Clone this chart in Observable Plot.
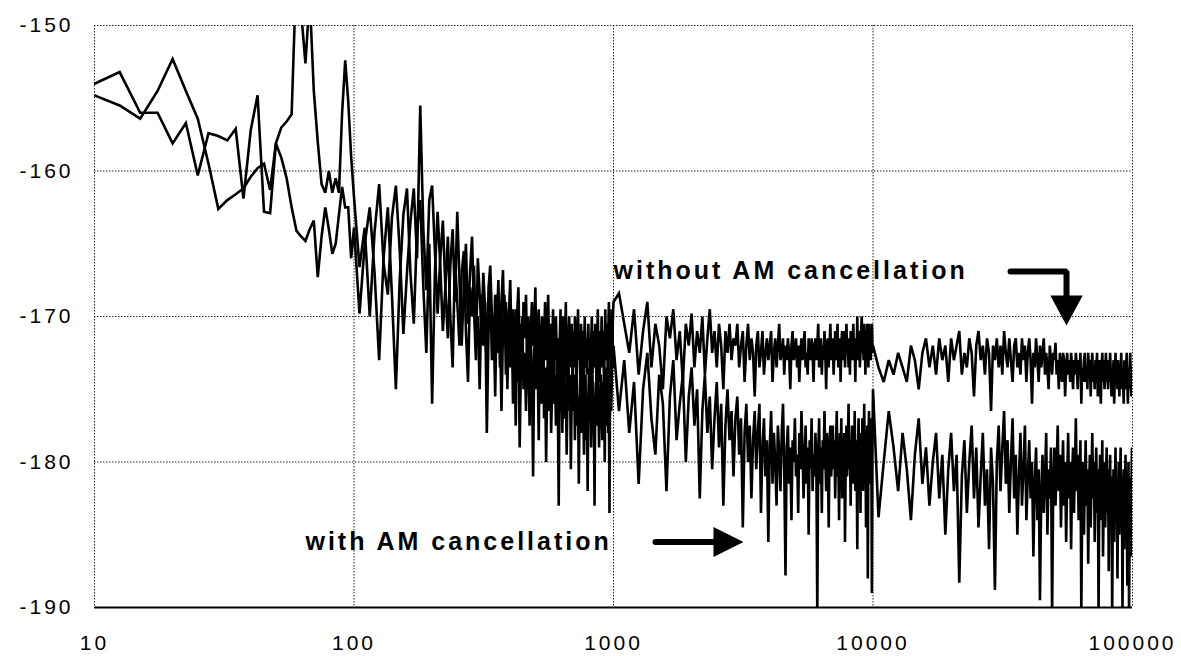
<!DOCTYPE html>
<html>
<head>
<meta charset="utf-8">
<script src="https://cdn.jsdelivr.net/npm/d3@7"></script>
<script src="https://cdn.jsdelivr.net/npm/@observablehq/plot@0.6"></script>
<style>
  html, body { margin: 0; padding: 0; background: #fff; overflow: hidden; }
  #chart { width: 1181px; height: 656px; }
</style>
</head>
<body>
<div id="chart"></div>
<script>
// ---------- axes ----------
const xTicks = [10, 100, 1000, 10000, 100000];
const yTicks = [-190, -180, -170, -160, -150];
const xGrid = [10, 100, 1000, 10000, 100000];
const yGrid = [-180, -170, -160, -150];

// ---------- measurement segments (start frequency, bin step in Hz) ----------
const segStart = [10, 100, 1000, 10000];
const segStep = [2.5, 5, 50, 500];

// ---------- "without AM cancellation" (dB) ----------
const without1 = [-154.0,-153.2,-156.0,-156.0,-158.1,-156.7,-160.3,-157.4,-157.6,-157.9,-157.1,-161.9,-157.2,-154.8,-162.8,-162.9,-158.1,-157.0,-156.6,-156.1,-146,-149,-152.6,-148,-154.5,-158,-160.9,-161.5,-160.0,-161.5,-160.5,-161.5,-156,-152.4,-155.2,-159,-161.8];
const without2 = [
-161.8,-166.6,-163.9,-170.0,-164.2,-160.9,-166.3,-168.5,-163.2,-161.0,-165.4,-171.2,-167.0,-163.5,-161.2,-166.0,-155.5,-164.0,-168.2,-162.0,
-161.0,-165.5,-169.8,-166.0,-163.4,-168.0,-171.5,-166.5,-164.0,-169.0,-162.8,-167.5,-172.0,-168.0,-165.0,-170.5,-167.0,-164.5,-169.5,-173.0,
-166.0,-168.5,-171.0,-167.0,-169.5,-174.0,-168.0,-166.5,-170.0,-172.5,-168.5,-171.0,-167.5,-173.5,-169.0,-166.8,-171.5,-169.0,-175.0,-170.0,
-167.5,-172.0,-169.5,-171.0,-177.5,-170.0,-168.0,-172.5,-170.5,-174.0,-169.0,-171.5,-168.5,-173.0,-170.0,-175.5,-171.0,-169.0,-172.0,-170.5,
-168.0,-173.5,-171.0,-169.5,-174.5,-172.0,-170.0,-176.0,-171.5,-169.0,-173.0,-171.0,-168.5,-172.5,-175.0,-170.5,-172.0,-169.5,-174.0,-171.0,
-170.0,-173.0,-171.5,-175.5,-172.0,-169.5,-173.5,-171.0,-170.0,-174.5,-172.0,-169.0,-173.0,-176.5,-171.5,-170.0,-173.5,-172.0,-170.5,-174.0,
-171.0,-173.5,-170.0,-172.5,-175.0,-171.5,-169.5,-173.0,-172.0,-174.5,-170.5,-172.5,-171.0,-176.0,-172.5,-170.0,-173.5,-171.5,-174.0,-172.0,
-170.5,-173.0,-171.5,-175.5,-172.0,-170.0,-174.0,-172.5,-171.0,-173.5,-170.5,-172.0,-175.0,-171.5,-169.5,-173.0,-172.0,-174.5,-171.0,-172.5,
-170.0,-173.5,-171.0,-172.5,-175.0,-171.5,-169.5,-173.0,-172.0,-170.5,-174.0,-171.0,-169.0,-172.5,-170.5,-173.0,-171.5,-169.5,-172.0,-170.0,-169.0];
const without3 = [
-169.0,-168.4,-170.5,-172.5,-169.5,-174.0,-171.0,-169.0,-173.5,-170.5,-172.0,-175.0,-170.0,-171.5,-169.5,-173.0,-171.0,-174.5,-170.5,-172.0,
-169.8,-173.5,-171.0,-172.5,-170.0,-174.0,-171.5,-169.5,-172.5,-171.0,-173.5,-170.5,-172.0,-175.0,-171.0,-172.5,-170.5,-173.0,-171.5,-172.0,
-170.5,-173.5,-172.0,-171.0,-174.5,-172.0,-170.5,-173.0,-171.5,-172.5,-175.5,-172.0,-171.0,-173.5,-172.5,-171.0,-174.0,-172.5,-171.5,-173.0,
-172.0,-171.0,-174.5,-172.5,-171.5,-173.5,-172.0,-170.5,-173.0,-172.5,-171.5,-174.0,-172.0,-173.0,-171.5,-172.5,-175.0,-172.0,-171.0,-173.0,
-172.5,-171.5,-173.5,-172.0,-174.5,-172.5,-171.5,-173.0,-172.0,-171.0,-173.5,-172.5,-174.0,-171.5,-172.5,-173.0,-171.5,-172.5,-174.5,-172.0,
-171.5,-173.0,-172.0,-170.5,-173.5,-172.5,-171.5,-174.0,-172.0,-173.0,-171.0,-172.5,-175.0,-172.0,-171.5,-173.5,-172.0,-170.5,-173.0,-172.5,
-171.5,-174.0,-172.5,-171.0,-173.0,-172.0,-170.5,-173.5,-172.5,-171.5,-174.5,-172.0,-171.0,-173.0,-172.5,-171.0,-173.5,-172.0,-170.5,-172.5,
-171.5,-173.5,-172.0,-174.0,-171.0,-172.5,-173.0,-171.5,-170.5,-173.0,-172.0,-174.5,-171.5,-172.5,-170.0,-173.0,-172.0,-171.0,-173.5,-172.5,
-171.0,-170.0,-172.5,-171.5,-173.0,-170.5,-172.0,-174.0,-171.0,-172.5,-170.5,-171.5,-173.5,-170.5,-172.0,-171.0,-173.0,-171.5,-170.5,-172.0,-172.5];
const without4 = [
-172.0,-173.5,-174.5,-173.0,-174.0,-172.5,-173.5,-174.5,-172.0,-173.0,-175.0,-172.5,-171.5,-173.5,-172.0,-174.0,-171.5,-173.0,-172.0,-174.5,
-171.5,-173.0,-172.0,-171.0,-174.0,-172.5,-173.5,-171.5,-172.5,-175.5,-172.0,-171.0,-173.0,-172.0,-174.0,-171.5,-172.5,-176.5,-172.0,-173.0,
-171.5,-173.5,-172.0,-174.0,-171.0,-172.5,-173.5,-171.5,-173.0,-174.5,-172.0,-171.5,-173.5,-172.5,-174.0,-171.5,-173.0,-172.0,-174.5,-172.5,
-171.5,-173.0,-176.0,-172.5,-173.5,-171.5,-173.0,-174.5,-172.0,-173.5,-172.5,-171.5,-174.0,-172.5,-173.5,-175.0,-172.0,-173.0,-174.0,-172.5,
-173.0,-171.8,-174.0,-173.0,-175.0,-172.5,-173.5,-174.5,-172.5,-173.0,-175.5,-173.5,-172.5,-174.0,-173.0,-174.5,-172.5,-173.5,-175.0,-173.0,
-174.0,-172.5,-173.5,-175.0,-173.0,-174.0,-172.5,-176.0,-173.5,-174.5,-173.0,-172.5,-174.5,-173.5,-175.0,-172.5,-174.0,-173.0,-175.5,-173.5,
-172.5,-174.5,-173.5,-175.0,-173.0,-174.0,-172.5,-175.5,-174.0,-173.0,-174.5,-176.0,-173.5,-172.5,-174.5,-173.0,-175.0,-174.0,-172.5,-174.5,
-173.5,-175.0,-173.0,-174.5,-172.5,-174.0,-175.5,-173.5,-174.5,-173.0,-176.0,-174.0,-172.5,-174.5,-173.5,-175.0,-173.0,-174.0,-175.5,-173.5,
-174.0,-172.5,-175.0,-173.5,-174.5,-176.0,-173.0,-174.5,-175.0,-173.5,-172.5,-174.5,-176.0,-173.5,-175.0,-174.0,-172.5,-174.5,-175.5,-173.5,-174.0];

// ---------- "with AM cancellation" (dB) ----------
const with1 = [-154.8,-155.5,-156.4,-154.5,-152.3,-154.5,-156.4,-159.5,-162.6,-162.0,-161.6,-161.2,-160.4,-159.8,-159.5,-161.3,-158.1,-159.1,-160.5,-162.5,-164.1,-164.5,-164.8,-164.0,-163.4,-167.3,-164.5,-162.5,-164,-165.7,-165,-163,-161.1,-162.5,-162.5,-166,-163.9];
const with2 = [
-163.9,-169.8,-165.0,-162.5,-167.0,-173.0,-166.0,-162.5,-168.5,-175.0,-167.5,-163.0,-161.2,-167.0,-170.5,-164.0,-162.0,-168.0,-172.5,-165.0,
-176.0,-167.0,-162.8,-166.5,-171.0,-168.0,-164.5,-170.0,-173.5,-166.0,-169.0,-172.0,-167.0,-165.5,-171.0,-174.5,-168.0,-170.0,-166.5,-172.0,
-170.0,-175.0,-168.5,-172.0,-169.0,-178.0,-171.0,-167.5,-173.0,-170.0,-175.5,-169.0,-172.5,-170.5,-176.5,-171.0,-168.5,-174.0,-171.5,-169.5,
-173.5,-170.0,-176.0,-172.0,-169.5,-174.5,-171.0,-179.0,-173.0,-170.0,-175.0,-172.5,-176.5,-170.5,-173.0,-177.5,-171.5,-174.0,-181.0,-172.5,
-170.5,-175.0,-173.0,-178.5,-172.0,-176.0,-174.0,-171.0,-177.0,-173.5,-180.0,-174.5,-172.0,-176.5,-173.0,-178.0,-175.0,-171.5,-176.0,-174.0,
-177.5,-173.0,-175.5,-183.0,-174.0,-176.5,-172.5,-178.0,-175.0,-173.0,-177.0,-174.5,-179.5,-175.0,-172.5,-176.0,-174.0,-180.5,-175.5,-173.5,
-176.5,-174.0,-178.5,-175.0,-173.0,-177.5,-175.5,-181.5,-176.0,-174.0,-178.0,-175.0,-173.5,-177.0,-179.5,-175.5,-174.0,-178.5,-176.0,-182.0,
-175.5,-173.5,-177.0,-175.0,-179.0,-176.5,-174.0,-178.0,-175.5,-183.0,-176.0,-174.5,-177.5,-175.0,-173.0,-176.5,-179.0,-175.5,-177.0,-174.0,
-176.5,-178.5,-174.5,-177.0,-175.0,-180.0,-176.0,-173.5,-177.5,-175.5,-174.0,-178.0,-176.0,-183.5,-175.0,-172.5,-176.5,-174.0,-171.0,-173.5,-172.0];
const with3 = [
-172.0,-176.5,-173.0,-178.0,-174.5,-181.5,-175.0,-172.5,-177.0,-179.5,-174.0,-176.0,-182.0,-175.5,-173.0,-178.5,-176.0,-174.0,-180.0,-175.5,
-173.5,-177.5,-175.0,-182.5,-176.5,-174.0,-178.0,-175.5,-180.5,-177.0,-174.5,-179.0,-176.0,-183.0,-177.5,-175.0,-178.5,-176.5,-181.0,-177.0,
-175.5,-179.5,-177.0,-184.5,-178.0,-176.0,-180.0,-177.5,-182.5,-178.5,-176.5,-180.5,-178.0,-176.0,-183.5,-179.0,-177.0,-181.0,-178.5,-185.5,
-179.0,-176.5,-181.5,-178.0,-180.0,-183.0,-177.5,-179.5,-182.0,-178.0,-176.0,-180.5,-187.8,-179.0,-177.5,-181.5,-179.0,-184.0,-178.5,-180.0,
-177.0,-181.0,-179.5,-183.5,-178.0,-180.5,-176.5,-179.0,-182.5,-180.0,-177.5,-181.5,-179.0,-185.0,-178.5,-180.5,-177.0,-182.0,-179.5,-181.0,
-178.0,-180.0,-190.5,-179.5,-177.0,-181.5,-179.0,-183.5,-178.5,-180.5,-176.5,-179.5,-182.0,-178.0,-180.0,-184.5,-179.0,-177.5,-181.0,-179.5,
-177.5,-180.5,-178.5,-182.5,-179.0,-176.5,-181.0,-179.5,-184.0,-178.0,-180.0,-177.0,-182.5,-179.5,-181.0,-178.0,-185.5,-180.0,-177.5,-181.0,
-179.0,-176.0,-180.5,-178.5,-183.0,-179.5,-177.5,-181.5,-179.0,-180.5,-176.5,-182.0,-178.5,-180.0,-186.0,-179.0,-177.0,-181.0,-179.5,-183.5,
-178.0,-180.5,-177.0,-182.0,-179.5,-176.0,-181.0,-178.5,-184.5,-180.0,-177.5,-188.0,-179.0,-176.5,-181.5,-178.0,-180.0,-177.0,-189.0,-179.0,-175.0];
const with4 = [
-175.0,-183.8,-180.0,-176.5,-179.0,-182.0,-178.0,-180.5,-184.0,-179.5,-177.0,-181.5,-179.0,-183.0,-180.0,-178.0,-182.5,-179.5,-185.0,-180.5,
-178.0,-182.0,-179.5,-188.3,-181.0,-178.5,-183.5,-180.0,-177.5,-182.5,-179.0,-184.5,-181.0,-178.0,-183.0,-180.5,-186.0,-179.0,-181.5,-188.8,
-180.0,-177.5,-182.0,-179.0,-176.5,-181.5,-178.5,-183.5,-180.0,-177.0,-182.5,-179.5,-185.0,-181.0,-178.0,-183.0,-180.5,-177.5,-184.0,-181.0,
-178.5,-182.5,-180.0,-186.5,-181.5,-179.0,-184.0,-180.5,-189.5,-182.0,-179.5,-183.5,-181.0,-178.0,-185.0,-180.5,-182.5,-179.0,-190.5,-181.5,
-179.0,-183.0,-180.5,-177.5,-182.0,-179.5,-184.5,-181.0,-178.5,-183.0,-180.0,-185.5,-181.5,-178.0,-182.5,-180.0,-186.0,-181.0,-179.0,-183.5,
-180.5,-177.0,-182.0,-179.5,-184.0,-181.0,-178.5,-190.5,-182.5,-180.0,-185.0,-181.5,-178.5,-183.0,-180.5,-187.0,-182.0,-179.5,-184.5,-181.0,
-178.0,-182.5,-180.0,-185.5,-181.5,-179.0,-183.5,-180.5,-190.5,-182.0,-179.5,-184.0,-181.0,-178.5,-186.5,-182.0,-180.0,-184.5,-181.5,-179.0,
-183.5,-180.5,-187.5,-182.0,-179.5,-184.5,-181.0,-190.5,-183.0,-180.5,-185.5,-182.0,-179.0,-184.0,-181.5,-188.0,-182.5,-180.0,-185.0,-181.5,
-179.0,-184.0,-181.0,-190.5,-183.5,-180.5,-186.0,-182.0,-179.5,-185.0,-181.5,-188.5,-183.0,-180.0,-190.5,-184.5,-181.0,-186.5,-182.5,-179.0,-180.0];

// ---------- annotations ----------
const labelWithout = "without AM cancellation";
const labelWith = "with AM cancellation";

// ---------- build table ----------
const rows = [];
function addSeries(name, segs) {
  segs.forEach((vals, s) => vals.forEach((v, i) =>
    rows.push({series: name, f: segStart[s] + i * segStep[s], db: v})));
}
addSeries("without", [without1, without2, without3, without4]);
addSeries("with", [with1, with2, with3, with4]);

// custom filled triangle symbols for the arrow heads
const triRight = {draw(ctx, size) {
  const k = Math.sqrt(size / Math.PI);
  ctx.moveTo(1.3 * k, 0); ctx.lineTo(-1.2 * k, -1.25 * k); ctx.lineTo(-1.2 * k, 1.25 * k); ctx.closePath();
}};
const triDown = {draw(ctx, size) {
  const k = Math.sqrt(size / Math.PI);
  ctx.moveTo(0, 1.3 * k); ctx.lineTo(-1.35 * k, -1.2 * k); ctx.lineTo(1.35 * k, -1.2 * k); ctx.closePath();
}};

const arrowWithShaft = [{f: 1452, db: -185.5}, {f: 2760, db: -185.5}];
const arrowWithHead = [{f: 2760, db: -185.5}];
const arrowWithoutShaft = [{f: 33880, db: -166.9}, {f: 55680, db: -166.9}, {f: 55680, db: -169.5}];
const arrowWithoutHead = [{f: 55680, db: -169.55}];

const chart = Plot.plot({
  width: 1181,
  height: 656,
  marginLeft: 94,
  marginRight: 49,
  marginTop: 25,
  marginBottom: 49,
  style: "font-family: 'Liberation Sans', Arial, sans-serif; font-size: 21px; color: black; background: white;",
  x: {type: "log", domain: [10, 100000], ticks: xTicks, tickFormat: d => String(d), tickSize: 0, tickPadding: 28, label: null},
  y: {domain: [-190, -150], ticks: yTicks, tickFormat: d => String(d), tickSize: 0, tickPadding: 21, label: null},
  marks: [
    Plot.ruleX(xGrid, {stroke: "#222", strokeWidth: 1, strokeDasharray: "1.5,1.5"}),
    Plot.ruleY(yGrid, {stroke: "#222", strokeWidth: 1, strokeDasharray: "1.5,1.5"}),
    Plot.ruleY([-190], {stroke: "black", strokeWidth: 2}),
    Plot.line(rows, {x: "f", y: "db", z: "series", stroke: "black", strokeWidth: 2.6, strokeLinejoin: "miter", strokeMiterlimit: 3, clip: true}),
    Plot.text([labelWithout], {x: 1000, y: -166.9, text: d => d, textAnchor: "start", fontSize: 25, fontWeight: "bold", fill: "black"}),
    Plot.text([labelWith], {x: 65, y: -185.5, text: d => d, textAnchor: "start", fontSize: 25, fontWeight: "bold", fill: "black"}),
    Plot.line(arrowWithShaft, {x: "f", y: "db", stroke: "black", strokeWidth: 6, strokeLinecap: "round"}),
    Plot.dot(arrowWithHead, {x: "f", y: "db", r: 12, symbol: triRight, fill: "black", stroke: "none"}),
    Plot.line(arrowWithoutShaft, {x: "f", y: "db", stroke: "black", strokeWidth: 6, strokeLinecap: "round", strokeLinejoin: "miter"}),
    Plot.dot(arrowWithoutHead, {x: "f", y: "db", r: 12, symbol: triDown, fill: "black", stroke: "none"})
  ]
});
chart.setAttribute("letter-spacing", "3");
d3.select(chart).selectAll("text").attr("letter-spacing", "3");
document.getElementById("chart").appendChild(chart);
</script>
</body>
</html>
